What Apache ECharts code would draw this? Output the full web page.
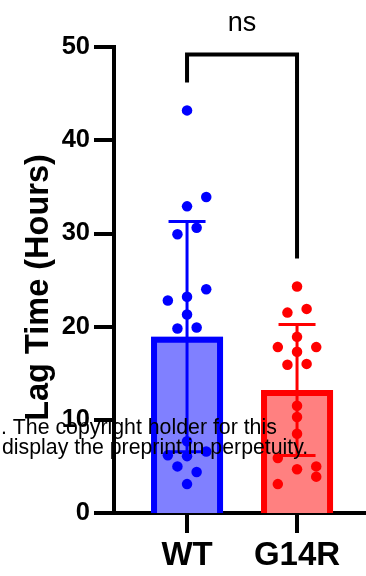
<!DOCTYPE html>
<html>
<head>
<meta charset="utf-8">
<script src="https://cdn.jsdelivr.net/npm/echarts@6/dist/echarts.min.js"></script>
<style>
  html, body { margin: 0; padding: 0; background: #fff; }
  #chart { width: 366px; height: 576px; }
</style>
</head>
<body>
<div id="chart"></div>
<script>
// Lag time (hours) per replicate for each genotype
const categories = ['WT', 'G14R'];
const wtValues = [43.2, 33.9, 32.9, 30.6, 29.9, 24.0, 23.2, 22.8, 21.3, 19.8, 19.9, 7.7, 6.6, 6.2, 6.1, 5.0, 4.4, 3.1];
const g14rValues = [24.3, 21.9, 21.5, 18.9, 17.8, 17.8, 17.3, 16.0, 15.9, 11.5, 10.3, 8.5, 5.9, 5.0, 4.7, 3.9, 3.1];
// column slot of every dot in the scatter swarm (0 = centre of the group)
const wtLanes = [0, 2, 0, 1, -1, 2, 0, -2, 0, -1, 1, 0, 2, -2, 0, -1, 1, 0];
const g14rLanes = [0, 1, -1, 0, -2, 2, 0, 1, -1, 0, 0, 0, -2, 2, 0, 2, -2];
const yTicks = [0, 10, 20, 30, 40, 50];
const yTitle = 'Lag Time (Hours)';
const comparisonLabel = 'ns';

const groups = [wtValues, g14rValues];
const lanes = [wtLanes, g14rLanes];
const strokeColors = ['#0000ff', '#ff0000'];
const fillColors = ['#8080ff', '#ff8080'];
const FONT = '"Liberation Sans", Arial, Helvetica, sans-serif';
const BAR_W = 72;
const BAR_BORDER = 6;
const LANE_PX = 9.6;
const CAP_HALF = 18.5;

function mean(a) { return a.reduce((s, v) => s + v, 0) / a.length; }
function sd(a) {
  const m = mean(a);
  return Math.sqrt(a.reduce((s, v) => s + (v - m) * (v - m), 0) / (a.length - 1));
}
const means = groups.map(mean);
const sds = groups.map(sd);

const chart = echarts.init(document.getElementById('chart'), null, { renderer: 'canvas' });

function renderBar(params, api) {
  const i = api.value(0);
  const top = api.coord([i, api.value(1)]);
  const base = api.coord([i, 0]);
  const l = top[0] - BAR_W / 2, r = top[0] + BAR_W / 2, h = BAR_BORDER / 2;
  return {
    type: 'group',
    children: [
      { type: 'rect', shape: { x: l, y: top[1], width: BAR_W, height: base[1] - top[1] },
        style: { fill: fillColors[i] } },
      { type: 'polyline', shape: { points: [[l + h, base[1]], [l + h, top[1] + h], [r - h, top[1] + h], [r - h, base[1]]] },
        style: { stroke: strokeColors[i], lineWidth: BAR_BORDER, fill: null, lineJoin: 'miter' } }
    ]
  };
}

function renderError(params, api) {
  const i = api.value(0);
  const lo = api.coord([i, api.value(1)]);
  const hi = api.coord([i, api.value(2)]);
  const st = { stroke: strokeColors[i], lineWidth: 3 };
  return {
    type: 'group',
    children: [
      { type: 'line', shape: { x1: lo[0], y1: lo[1], x2: hi[0], y2: hi[1] }, style: st },
      { type: 'line', shape: { x1: hi[0] - CAP_HALF, y1: hi[1], x2: hi[0] + CAP_HALF, y2: hi[1] }, style: st },
      { type: 'line', shape: { x1: lo[0] - CAP_HALF, y1: lo[1], x2: lo[0] + CAP_HALF, y2: lo[1] }, style: st }
    ]
  };
}

// significance bracket: legs stop a little above each group's highest dot
const bracketTop = 49.2;
const bracketData = [[0, 1, Math.max(...wtValues) + 3, Math.max(...g14rValues) + 3, bracketTop]];
function renderBracket(params, api) {
  const a = api.coord([api.value(0), api.value(2)]);
  const b = api.coord([api.value(1), api.value(3)]);
  const t = api.coord([api.value(0), api.value(4)])[1];
  return {
    type: 'group',
    children: [
      { type: 'polyline', shape: { points: [[a[0], a[1]], [a[0], t], [b[0], t], [b[0], b[1]]] },
        style: { stroke: '#000', lineWidth: 4, fill: null, lineJoin: 'miter' } },
      { type: 'text', x: (a[0] + b[0]) / 2, y: t - 31,
        style: { text: comparisonLabel, font: '27px ' + FONT, fill: '#000', align: 'center', verticalAlign: 'middle' } }
    ]
  };
}

const scatterSeries = groups.map((vals, i) => ({
  type: 'scatter',
  symbol: 'circle',
  symbolSize: 10.5,
  itemStyle: { color: strokeColors[i], opacity: 1 },
  z: 5,
  data: vals.map((v, k) => ({ value: [i, v], symbolOffset: [lanes[i][k] * LANE_PX, 0] })),
  silent: true
}));

chart.setOption({
  animation: false,
  backgroundColor: '#fff',
  grid: { left: 114, right: 0, top: 47, bottom: 63 },
  xAxis: {
    type: 'value',
    min: -0.664,
    max: 1.627,
    axisLine: { show: true, onZero: false, lineStyle: { color: '#000', width: 4 } },
    axisTick: { show: true, customValues: [0, 1], length: 20, lineStyle: { color: '#000', width: 4 } },
    axisLabel: {
      customValues: [0, 1],
      formatter: v => categories[Math.round(v)] || '',
      color: '#000', fontFamily: FONT, fontWeight: 'bold', fontSize: 33, margin: 26
    },
    splitLine: { show: false }
  },
  yAxis: {
    type: 'value',
    min: yTicks[0],
    max: yTicks[yTicks.length - 1],
    interval: 10,
    axisLine: { show: true, onZero: false, lineStyle: { color: '#000', width: 4, cap: 'square' } },
    axisTick: { show: true, length: 20, lineStyle: { color: '#000', width: 4 } },
    axisLabel: { color: '#000', fontFamily: FONT, fontWeight: 'bold', fontSize: 25.5, margin: 24 },
    splitLine: { show: false }
  },
  series: [
    { type: 'custom', renderItem: renderBar, z: 2, silent: true,
      data: means.map((m, i) => [i, m]) },
    { type: 'custom', renderItem: renderError, z: 3, silent: true,
      data: means.map((m, i) => [i, m - sds[i], m + sds[i]]) },
    ...scatterSeries,
    { type: 'custom', renderItem: renderBracket, z: 6, silent: true, clip: false,
      data: bracketData }
  ],
  graphic: [
    { type: 'text', x: 39, y: 287.5, rotation: Math.PI / 2, z: 10,
      style: { text: yTitle, font: 'bold 32.5px ' + FONT, fill: '#000', align: 'center', verticalAlign: 'middle' } },
    { type: 'text', x: 1, y: 428.5, z: 100,
      style: { text: '. The copyright holder for this', font: '21.3px ' + FONT, fill: '#000', verticalAlign: 'middle' } },
    { type: 'text', x: 2, y: 448, z: 100,
      style: { text: 'display the preprint in perpetuity.', font: '21.3px ' + FONT, fill: '#000', verticalAlign: 'middle' } }
  ]
});
</script>
</body>
</html>
